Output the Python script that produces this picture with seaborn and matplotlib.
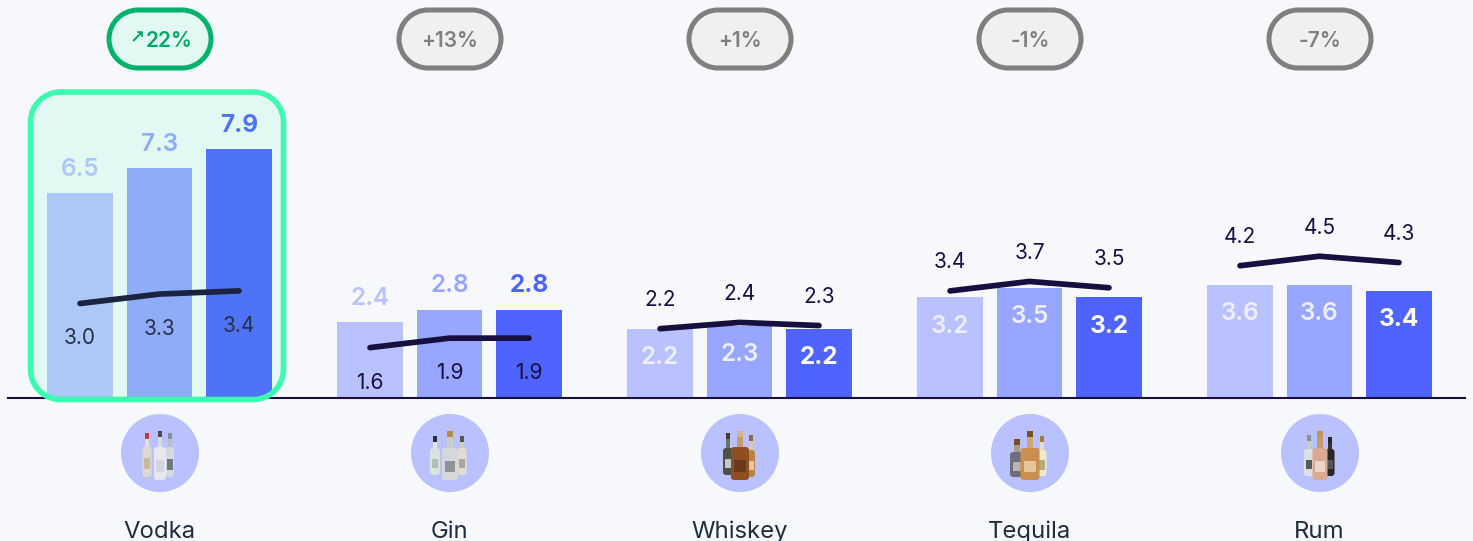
import pandas as pd
import seaborn as sns
from matplotlib import pyplot as plt
from matplotlib.patches import Circle, FancyBboxPatch, PathPatch, Rectangle
from matplotlib.path import Path
from matplotlib.transforms import Affine2D

spirits = ['Vodka', 'Gin', 'Whiskey', 'Tequila', 'Rum']
periods = ['P1', 'P2', 'P3']
bar_p1 = [6.5, 2.4, 2.2, 3.2, 3.6]
bar_p2 = [7.3, 2.8, 2.3, 3.5, 3.6]
bar_p3 = [7.9, 2.8, 2.2, 3.2, 3.4]
line_p1 = [3.0, 1.6, 2.2, 3.4, 4.2]
line_p2 = [3.3, 1.9, 2.4, 3.7, 4.5]
line_p3 = [3.4, 1.9, 2.3, 3.5, 4.3]
changes = ['22%', '+13%', '+1%', '-1%', '-7%']

BG = '#F7F8FB'
NAVY = '#170F3F'
bar_colors = ['#B9C2FF', '#98A6FF', '#4F64FF']
vodka_colors = ['#ADC8F7', '#8FACF7', '#4E73F8']

# side bottle, side bottle, middle bottle: dx, width, top, shoulder, bottom, body, neck, cap, label
icons = {
    'Vodka': [(-13, 9, -20, -7, 24, '#DDD8D0', '#E4E2E0', '#C8392F', '#C9B79E'),
              (10, 8, -20, -6, 24, '#D5D9E2', '#B9BDC8', '#8A8D99', '#6F7686'),
              (0, 12, -22, -6, 27, '#E6E8EE', '#D8DAE2', '#4A4D58', '#D3D6DE')],
    'Gin': [(-15, 10, -17, -5, 22, '#D7E3DC', '#DDE5E0', '#2E2E33', '#AEBFB4'),
            (12, 9, -17, -5, 22, '#DEDCD4', '#CFCDC4', '#5C5647', '#A8A698'),
            (0, 16, -22, -5, 27, '#D5D8D8', '#C9CCCC', '#B78A3E', '#8F9492')],
    'Whiskey': [(-12, 10, -20, -5, 22, '#4A5245', '#6B7268', '#3D3D35', '#C5C8BC'),
                (11, 8, -18, -3, 24, '#B88446', '#D8C8A8', '#8D6A3C', '#E0C9A0'),
                (0, 18, -22, -6, 27, '#8F4F22', '#C99A72', '#D2B290', '#6B3A1C')],
    'Tequila': [(-13, 14, -14, -1, 24, '#6D6F78', '#A89C88', '#7A4E22', '#B8B5AE'),
                (12, 9, -17, -3, 23, '#EFE9CC', '#E5DFC5', '#A87A3A', '#B9A878'),
                (0, 19, -22, -5, 27, '#C98F4F', '#C9A77A', '#7A4E1E', '#E2C79C')],
    'Rum': [(-11, 10, -18, -4, 23, '#DDE0E2', '#C5C8CC', '#8E9196', '#55585C'),
            (10, 9, -16, -4, 23, '#2B2528', '#38322F', '#26262A', '#5A5254'),
            (0, 15, -22, -5, 27, '#DBA98F', '#C99A6E', '#C2935A', '#EBD5C8')],
}

df = pd.DataFrame({
    'spirit': spirits * 3,
    'period': [p for p in periods for _ in spirits],
    'value': bar_p1 + bar_p2 + bar_p3,
})

sns.set_theme(style='white')
plt.rcParams['font.family'] = ['Inter', 'DejaVu Sans']

W, H = 1473, 541
PX_PER_UNIT = 31.5
BASE = 398
fig = plt.figure(figsize=(W / 100, H / 100), dpi=100, facecolor=BG)
ax = fig.add_axes([8 / W, (H - BASE) / H, (1465 - 8) / W, BASE / H], facecolor=BG)

# pixel coordinates for the decorations, y going down like the picture
px = Affine2D().scale(1, -1).translate(0, H)


def rounded_box(x0, y0, x1, y1, r, **kw):
    # FancyBboxPatch corners come out too square, these are proper quarter circles
    k = r * 0.4477
    verts = [(x0 + r, y0), (x1 - r, y0), (x1 - k, y0), (x1, y0 + k), (x1, y0 + r),
             (x1, y1 - r), (x1, y1 - k), (x1 - k, y1), (x1 - r, y1),
             (x0 + r, y1), (x0 + k, y1), (x0, y1 - k), (x0, y1 - r),
             (x0, y0 + r), (x0, y0 + k), (x0 + k, y0), (x0 + r, y0), (x0 + r, y0)]
    codes = [Path.MOVETO, Path.LINETO, Path.CURVE4, Path.CURVE4, Path.CURVE4,
             Path.LINETO, Path.CURVE4, Path.CURVE4, Path.CURVE4,
             Path.LINETO, Path.CURVE4, Path.CURVE4, Path.CURVE4,
             Path.LINETO, Path.CURVE4, Path.CURVE4, Path.CURVE4, Path.CLOSEPOLY]
    return PathPatch(Path(verts, codes), transform=px, clip_on=False, **kw)


sns.barplot(data=df, x='spirit', y='value', hue='period', order=spirits, hue_order=periods,
            palette=bar_colors, width=0.822, gap=0.17, saturation=1, legend=False,
            linewidth=0, edgecolor='none', ax=ax)

for i, cont in enumerate(ax.containers):
    cont[0].set_facecolor(vodka_colors[i])

ax.set_xlim((8 - 159.5) / 290, (1465 - 159.5) / 290)
ax.set_ylim(0, BASE / PX_PER_UNIT)
ax.set_xlabel('')
ax.set_ylabel('')
ax.set_yticks([])
ax.tick_params(axis='x', length=0, pad=88.5, labelsize=17.2, labelcolor='#1F2D3D')
sns.despine(ax=ax, left=True)
ax.spines['bottom'].set_color(NAVY)
ax.spines['bottom'].set_linewidth(1.5)

lines = [line_p1, line_p2, line_p3]
for g, spirit in enumerate(spirits):
    bars = [cont[g] for cont in ax.containers]
    xs = [b.get_x() + b.get_width() / 2 for b in bars]
    ys = [ln[g] for ln in lines]
    line_color = '#1A2340' if g == 0 else NAVY
    sns.lineplot(x=xs, y=ys, color=line_color, linewidth=4.1, estimator=None, sort=False,
                 solid_capstyle='round', zorder=4, ax=ax, legend=False)

    # value labels of the bars: above in the first two groups, inside in the others
    for j, b in enumerate(bars):
        if g < 2:
            color, dy = bar_colors[j] if g else vodka_colors[j], 24
        else:
            color, dy = ('white' if j == 2 else '#EDEFFF'), -29
        ax.annotate(f'{b.get_height():.1f}', (xs[j], b.get_height()), xytext=(0, dy),
                    textcoords='offset pixels', ha='center', va='center', fontsize=17.5,
                    fontweight='bold' if j == 2 else 'semibold', color=color, zorder=5)
        dy2 = -35 if g < 2 else 28.5
        ax.annotate(f'{ys[j]:.1f}', (xs[j], ys[j]), xytext=(0, dy2), textcoords='offset pixels',
                    ha='center', va='center', fontsize=15,
                    color='#26304A' if g == 0 else NAVY, zorder=5)

    # pill with the change on top
    cx = 160 + 290 * g
    up = g == 0
    ax.add_patch(rounded_box(cx - 51, 10, cx + 51, 68, 29, fc='#E2F9F3' if up else '#EFF1F1',
                             ec='#00B26B' if up else '#7F7F7F', lw=3.6, zorder=2))
    pill_color = '#00A865' if up else '#7F7F7F'
    ax.text(cx + 9 if up else cx, 41, changes[g], transform=px, ha='center', va='center',
            fontsize=15, fontweight='semibold', color=pill_color, zorder=5, clip_on=False)
    if up:
        ax.text(cx - 23, 38, '↗', transform=px, ha='center', va='center', fontsize=13,
                fontweight='bold', color=pill_color, family=['DejaVu Sans'], zorder=5)

    # icon below the axis
    cy = 453
    ax.add_patch(Circle((cx, cy), 39, transform=px, fc='#B9C2FF', ec='none', zorder=2, clip_on=False))
    for dx, w, top, shoulder, bottom, body, neck, cap, tag in icons[spirit]:
        nw = max(w * 0.36, 3.5)
        ax.add_patch(Rectangle((cx + dx - nw / 2, cy + top), nw, 6, transform=px, fc=cap, ec='none',
                               zorder=3, clip_on=False))
        ax.add_patch(Rectangle((cx + dx - nw / 2, cy + top + 6), nw, shoulder - top - 4, transform=px,
                               fc=neck, ec='none', zorder=3, clip_on=False))
        ax.add_patch(FancyBboxPatch((cx + dx - w / 2, cy + shoulder), w, bottom - shoulder,
                                    boxstyle='round,pad=0,rounding_size=3', transform=px, fc=body,
                                    ec='none', zorder=3, clip_on=False))
        ax.add_patch(Rectangle((cx + dx - w * 0.32, cy + shoulder + (bottom - shoulder) * 0.4),
                               w * 0.64, (bottom - shoulder) * 0.35, transform=px, fc=tag, ec='none',
                               zorder=3, clip_on=False))

# highlight panel around vodka: the fill goes behind the bars, the border in front
ax.add_patch(rounded_box(30.5, 92, 283.5, 399.5, 30, fc='#E2F9F3', ec='none', zorder=0.5))
ax.add_patch(rounded_box(30.5, 92, 283.5, 399.5, 30, fc='none', ec='#3CFBB0', lw=4, zorder=3))

fig.savefig('out.png', dpi=100, facecolor=BG)
